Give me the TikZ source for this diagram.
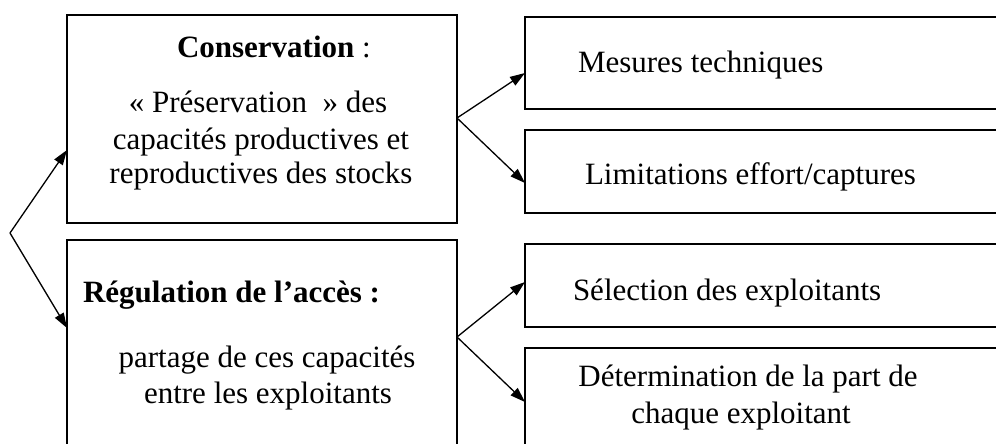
\documentclass[tikz,border=0pt]{standalone}
\usepackage{fontspec}
\setmainfont{Liberation Serif}
\usetikzlibrary{arrows.meta}
\begin{document}
\begin{tikzpicture}[x=1pt,y=-1pt,
  boxnode/.style={draw,line width=1.6pt,inner sep=0pt,outer sep=0pt},
  txt/.style={inner sep=0pt,outer sep=0pt,font=\fontsize{31}{36}\selectfont},
  conn/.style={line width=1.3pt,-{Triangle[length=15pt,width=10pt]}}]
\useasboundingbox (0,0) rectangle (996,444);
\clip (0,0) rectangle (996,444);
% boxes
\node[boxnode,minimum width=390pt,minimum height=208pt] (A) at (262,119) {};
\node[boxnode,minimum width=390pt,minimum height=220pt] (B) at (262,350) {};
\node[boxnode,minimum width=485pt,minimum height=92pt] (M) at (767.5,63) {};
\node[boxnode,minimum width=485pt,minimum height=83pt] (L) at (767.5,171.5) {};
\node[boxnode,minimum width=485pt,minimum height=83pt] (S) at (767.5,285.5) {};
\node[boxnode,minimum width=485pt,minimum height=112pt] (D) at (767.5,404) {};
% texts
\node[txt,anchor=base west] (tA1) at (177,58) {\textbf{Conservation} :};
\node[txt,anchor=base] (tA2) at (258,112) {« Préservation \ » des};
\node[txt,anchor=base] (tA3) at (261,149) {capacités productives et};
\node[txt,anchor=base] (tA4) at (261,183) {reproductives des stocks};
\node[txt,anchor=base west] (tB1) at (83,302) {\textbf{Régulation de l’accès :}};
\node[txt,anchor=base] (tB2) at (267,367) {partage de ces capacités};
\node[txt,anchor=base] (tB3) at (268,403) {entre les exploitants};
\node[txt,anchor=base west] (tM) at (578,73) {Mesures techniques};
\node[txt,anchor=base west] (tL) at (585,184) {Limitations effort/captures};
\node[txt,anchor=base west] (tS) at (573,300) {Sélection des exploitants};
\node[txt,anchor=base] (tD1) at (748,386) {Détermination de la part de};
\node[txt,anchor=base] (tD2) at (741,423) {chaque exploitant};
% connectors
\coordinate (vl) at (10,233);
\coordinate (va) at (A.east |- 0,118);
\coordinate (vb) at (B.east |- 0,337);
\draw[conn] (vl) -- (A.west |- 0,150);
\draw[conn] (vl) -- (B.west |- 0,328);
\draw[conn] (va) -- (M.west |- 0,73);
\draw[conn] (va) -- (L.west |- 0,183);
\draw[conn] (vb) -- (S.west |- 0,282);
\draw[conn] (vb) -- (D.west |- 0,402);
\end{tikzpicture}
\end{document}
